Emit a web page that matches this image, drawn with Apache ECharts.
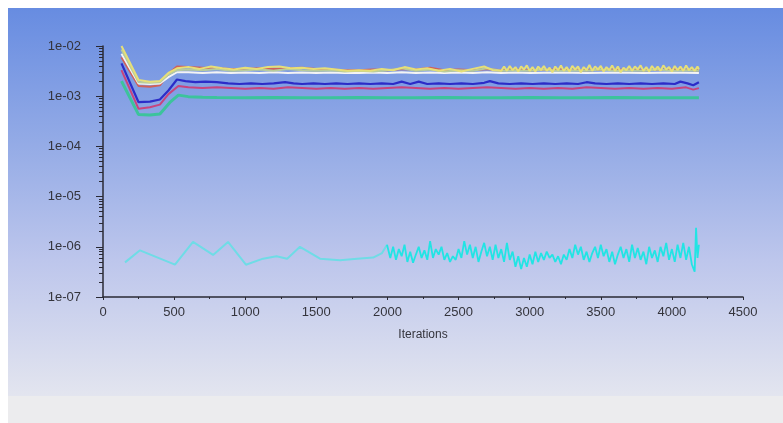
<!DOCTYPE html>
<html>
<head>
<meta charset="utf-8">
<script src="https://cdn.jsdelivr.net/npm/echarts@6/dist/echarts.min.js"></script>
<style>html,body{margin:0;padding:0;background:#fff}#c{width:783px;height:423px}</style>
</head>
<body>
<div id="c"></div>
<script>
// ---- data: [iteration, residual] ----
const xTicks = [0, 500, 1000, 1500, 2000, 2500, 3000, 3500, 4000, 4500];
const yTicks = ['1e-07', '1e-06', '1e-05', '1e-04', '1e-03', '1e-02'];

const yellowRes = [[130,1.0e-2],[250,2.1e-3],[330,1.95e-3],[400,2.0e-3],[460,2.9e-3],[520,3.6e-3],[600,3.8e-3],[680,3.5e-3],[760,3.9e-3],[840,3.6e-3],[920,3.4e-3],[1000,3.7e-3],[1080,3.5e-3],[1160,3.8e-3],[1240,3.9e-3],[1320,3.6e-3],[1400,3.7e-3],[1480,3.5e-3],[1560,3.6e-3],[1640,3.4e-3],[1720,3.2e-3],[1800,3.3e-3],[1880,3.2e-3],[1960,3.5e-3],[2040,3.3e-3],[2120,3.8e-3],[2200,3.4e-3],[2280,3.6e-3],[2360,3.2e-3],[2440,3.5e-3],[2520,3.1e-3],[2600,3.5e-3],[2680,3.9e-3],[2740,3.3e-3],[2800,3.2e-3],[2820,3.9e-3],[2840,3.2e-3],[2860,4.0e-3],[2880,3.3e-3],[2900,3.8e-3],[2920,3.1e-3],[2940,3.9e-3],[2960,3.4e-3],[2980,4.1e-3],[3000,3.2e-3],[3020,3.8e-3],[3040,3.1e-3],[3060,3.9e-3],[3080,3.3e-3],[3100,4.0e-3],[3120,3.2e-3],[3140,3.7e-3],[3160,3.0e-3],[3180,3.9e-3],[3200,3.3e-3],[3220,4.1e-3],[3240,3.2e-3],[3260,3.8e-3],[3280,3.1e-3],[3300,4.0e-3],[3320,3.4e-3],[3340,3.9e-3],[3360,3.0e-3],[3380,3.8e-3],[3400,3.3e-3],[3420,4.2e-3],[3440,3.2e-3],[3460,3.9e-3],[3480,3.4e-3],[3500,4.0e-3],[3520,3.1e-3],[3540,3.8e-3],[3560,3.3e-3],[3580,4.1e-3],[3600,3.2e-3],[3620,3.9e-3],[3640,3.0e-3],[3660,3.7e-3],[3680,3.3e-3],[3700,4.0e-3],[3720,3.2e-3],[3740,3.9e-3],[3760,3.4e-3],[3780,4.1e-3],[3800,3.2e-3],[3820,3.8e-3],[3840,3.1e-3],[3860,4.0e-3],[3880,3.3e-3],[3900,3.9e-3],[3920,3.2e-3],[3940,4.1e-3],[3960,3.4e-3],[3980,3.8e-3],[4000,3.1e-3],[4020,4.0e-3],[4040,3.3e-3],[4060,3.9e-3],[4080,3.2e-3],[4100,4.1e-3],[4120,3.3e-3],[4140,3.8e-3],[4160,3.2e-3],[4180,3.9e-3],[4190,3.4e-3]];
const grayRes = [[130,8.5e-3],[250,1.9e-3],[330,1.85e-3],[400,1.9e-3],[460,2.7e-3],[520,3.3e-3],[600,3.4e-3],[700,3.3e-3],[800,3.5e-3],[900,3.2e-3],[1000,3.3e-3],[1100,3.4e-3],[1200,3.2e-3],[1300,3.5e-3],[1400,3.3e-3],[1500,3.2e-3],[1600,3.3e-3],[1700,3.1e-3],[1800,3.2e-3],[1900,3.1e-3],[2000,3.3e-3],[2100,3.6e-3],[2200,3.2e-3],[2300,3.4e-3],[2400,3.1e-3],[2500,3.3e-3],[2600,3.2e-3],[2700,3.6e-3],[2800,3.2e-3],[2900,3.3e-3],[3000,3.2e-3],[3100,3.4e-3],[3200,3.2e-3],[3300,3.3e-3],[3400,3.2e-3],[3500,3.4e-3],[3600,3.2e-3],[3700,3.3e-3],[3800,3.2e-3],[3900,3.4e-3],[4000,3.2e-3],[4100,3.3e-3],[4190,3.2e-3]];
const whiteRes = [[130,7.0e-3],[250,1.8e-3],[330,1.75e-3],[400,1.8e-3],[460,2.4e-3],[520,3.0e-3],[600,3.0e-3],[700,2.9e-3],[800,3.0e-3],[900,2.9e-3],[1000,2.95e-3],[1100,2.9e-3],[1200,3.0e-3],[1300,2.9e-3],[1400,2.95e-3],[1500,2.9e-3],[1600,2.95e-3],[1700,2.9e-3],[1800,2.9e-3],[1900,2.95e-3],[2000,2.9e-3],[2100,3.0e-3],[2200,2.9e-3],[2300,2.95e-3],[2400,2.9e-3],[2500,2.95e-3],[2600,2.9e-3],[2700,3.0e-3],[2800,2.9e-3],[2900,2.95e-3],[3000,2.9e-3],[3200,2.95e-3],[3400,2.9e-3],[3600,2.95e-3],[3800,2.9e-3],[4000,2.95e-3],[4190,2.9e-3]];
const redRes = [[130,6.0e-3],[250,1.6e-3],[330,1.55e-3],[400,1.65e-3],[460,2.8e-3],[520,3.9e-3],[600,3.8e-3],[700,3.7e-3],[800,3.6e-3],[900,3.5e-3],[1000,3.5e-3],[1100,3.6e-3],[1200,3.5e-3],[1300,3.6e-3],[1400,3.7e-3],[1500,3.5e-3],[1600,3.4e-3],[1700,3.3e-3],[1800,3.3e-3],[1900,3.4e-3],[2000,3.3e-3],[2100,3.5e-3],[2200,3.4e-3],[2300,3.7e-3],[2400,3.3e-3],[2500,3.4e-3],[2600,3.3e-3],[2700,3.5e-3],[2800,3.3e-3],[2900,3.4e-3],[3000,3.3e-3],[3200,3.4e-3],[3400,3.3e-3],[3600,3.4e-3],[3800,3.3e-3],[4000,3.4e-3],[4190,3.3e-3]];
const blueRes = [[130,4.5e-3],[250,7.6e-4],[330,7.8e-4],[400,8.6e-4],[460,1.3e-3],[520,2.15e-3],[580,2.0e-3],[650,1.9e-3],[720,1.95e-3],[800,1.9e-3],[880,1.8e-3],[960,1.75e-3],[1040,1.8e-3],[1120,1.75e-3],[1200,1.8e-3],[1280,1.9e-3],[1340,1.8e-3],[1400,1.75e-3],[1480,1.8e-3],[1560,1.75e-3],[1640,1.8e-3],[1720,1.75e-3],[1800,1.8e-3],[1880,1.75e-3],[1960,1.8e-3],[2040,1.75e-3],[2100,1.95e-3],[2160,1.75e-3],[2220,1.95e-3],[2280,1.75e-3],[2360,1.8e-3],[2440,1.75e-3],[2520,1.8e-3],[2600,1.75e-3],[2680,1.85e-3],[2720,2.0e-3],[2780,1.8e-3],[2860,1.75e-3],[2940,1.8e-3],[3020,1.75e-3],[3100,1.8e-3],[3180,1.75e-3],[3260,1.8e-3],[3340,1.75e-3],[3400,1.9e-3],[3460,1.8e-3],[3540,1.75e-3],[3620,1.8e-3],[3700,1.75e-3],[3780,1.8e-3],[3860,1.75e-3],[3940,1.8e-3],[4020,1.75e-3],[4060,1.95e-3],[4110,1.8e-3],[4150,1.65e-3],[4190,1.9e-3]];
const magentaRes = [[130,3.3e-3],[250,5.6e-4],[330,6.0e-4],[400,6.8e-4],[460,1.1e-3],[530,1.6e-3],[600,1.5e-3],[700,1.45e-3],[800,1.5e-3],[900,1.45e-3],[1000,1.4e-3],[1100,1.45e-3],[1200,1.4e-3],[1300,1.5e-3],[1400,1.45e-3],[1500,1.4e-3],[1600,1.45e-3],[1700,1.4e-3],[1800,1.45e-3],[1900,1.4e-3],[2000,1.45e-3],[2100,1.5e-3],[2200,1.45e-3],[2300,1.4e-3],[2400,1.45e-3],[2500,1.4e-3],[2600,1.45e-3],[2700,1.5e-3],[2800,1.45e-3],[2900,1.4e-3],[3000,1.45e-3],[3100,1.4e-3],[3200,1.45e-3],[3300,1.4e-3],[3400,1.5e-3],[3500,1.45e-3],[3600,1.4e-3],[3700,1.45e-3],[3800,1.4e-3],[3900,1.45e-3],[4000,1.4e-3],[4100,1.5e-3],[4150,1.35e-3],[4190,1.45e-3]];
const greenRes = [[130,2.0e-3],[250,4.3e-4],[330,4.2e-4],[400,4.4e-4],[470,7.5e-4],[530,1.05e-3],[600,9.8e-4],[700,9.5e-4],[800,9.4e-4],[1000,9.3e-4],[1200,9.4e-4],[1400,9.3e-4],[1600,9.3e-4],[1800,9.4e-4],[2000,9.3e-4],[2200,9.3e-4],[2400,9.4e-4],[2600,9.3e-4],[2800,9.3e-4],[3000,9.4e-4],[3200,9.3e-4],[3400,9.3e-4],[3600,9.4e-4],[3800,9.3e-4],[4000,9.3e-4],[4190,9.3e-4]];
const cyanEarly = [[155,4.9e-7],[260,8.5e-7],[506,4.4e-7],[633,1.25e-6],[774,6.9e-7],[879,1.25e-6],[1005,4.4e-7],[1125,5.8e-7],[1220,6.5e-7],[1295,5.8e-7],[1385,1.0e-6],[1526,5.8e-7],[1667,5.4e-7],[1786,5.8e-7],[1899,6.1e-7],[1962,7.5e-7],[1997,1.1e-6]];
const cyanLate = [[1997,1.1e-6],[2020,6.0e-7],[2040,1.0e-6],[2060,5.5e-7],[2080,9.0e-7],[2100,6.5e-7],[2120,1.1e-6],[2140,5.0e-7],[2160,8.0e-7],[2180,4.8e-7],[2200,7.0e-7],[2220,1.0e-6],[2240,6.0e-7],[2260,8.5e-7],[2280,5.5e-7],[2300,1.3e-6],[2320,6.0e-7],[2340,9.0e-7],[2360,7.0e-7],[2380,1.0e-6],[2400,5.5e-7],[2420,7.5e-7],[2440,5.0e-7],[2460,6.5e-7],[2480,5.5e-7],[2500,9.0e-7],[2520,6.0e-7],[2540,1.3e-6],[2560,7.0e-7],[2580,1.1e-6],[2600,6.0e-7],[2620,1.0e-6],[2640,5.0e-7],[2660,8.0e-7],[2680,1.2e-6],[2700,6.5e-7],[2720,1.0e-6],[2740,5.5e-7],[2760,1.1e-6],[2780,6.0e-7],[2800,9.0e-7],[2820,5.0e-7],[2840,1.2e-6],[2860,5.5e-7],[2880,8.0e-7],[2900,4.0e-7],[2920,6.5e-7],[2940,3.6e-7],[2960,6.0e-7],[2980,4.0e-7],[3000,7.0e-7],[3020,4.5e-7],[3040,8.0e-7],[3060,5.0e-7],[3080,7.5e-7],[3100,5.5e-7],[3120,8.0e-7],[3140,6.0e-7],[3160,7.0e-7],[3180,5.0e-7],[3200,6.5e-7],[3220,4.5e-7],[3240,7.0e-7],[3260,5.5e-7],[3280,9.0e-7],[3300,6.0e-7],[3320,1.1e-6],[3340,7.0e-7],[3360,1.0e-6],[3380,5.5e-7],[3400,8.0e-7],[3420,5.0e-7],[3440,7.5e-7],[3460,1.0e-6],[3480,6.0e-7],[3500,1.1e-6],[3520,6.5e-7],[3540,9.0e-7],[3560,5.0e-7],[3580,8.0e-7],[3600,4.5e-7],[3620,7.0e-7],[3640,1.0e-6],[3660,6.0e-7],[3680,9.0e-7],[3700,5.0e-7],[3720,1.1e-6],[3740,6.0e-7],[3760,9.5e-7],[3780,5.5e-7],[3800,8.0e-7],[3820,4.5e-7],[3840,1.0e-6],[3860,6.0e-7],[3880,8.5e-7],[3900,5.0e-7],[3920,1.0e-6],[3940,6.5e-7],[3960,1.2e-6],[3980,5.5e-7],[4000,9.0e-7],[4020,5.0e-7],[4040,1.1e-6],[4060,6.0e-7],[4080,1.2e-6],[4100,5.5e-7],[4120,1.0e-6],[4140,4.5e-7],[4160,3.2e-7],[4170,2.4e-6],[4180,6.0e-7],[4190,1.1e-6]];

// minor tick positions (log10 of 2..9 x 10^e)
const minorTickVals = [];
for (let e = -7; e < -2; e++) for (let k = 2; k <= 9; k++) minorTickVals.push(Math.log10(k) + e);

const chart = echarts.init(document.getElementById('c'), null, {renderer: 'canvas'});
const lbl = {color: '#34343c', fontFamily: 'Liberation Sans', fontSize: 13};
function line(data, color, width) {
  return {type: 'line', data: data, showSymbol: false, symbol: 'none', xAxisIndex: 0, yAxisIndex: 0,
    lineStyle: {color: color, width: width}, itemStyle: {color: color}, z: 3};
}
chart.setOption({
  animation: false,
  backgroundColor: '#ffffff',
  graphic: [
    {type: 'rect', z: -10, silent: true, shape: {x: 8, y: 8, width: 775, height: 388},
      style: {fill: new echarts.graphic.LinearGradient(0, 0, 0, 1, [
        {offset: 0, color: '#678ce1'}, {offset: 0.35, color: '#94abe6'},
        {offset: 0.65, color: '#bdc6ec'}, {offset: 1, color: '#e3e5ef'}])}},
    {type: 'rect', z: -10, silent: true, shape: {x: 8, y: 396, width: 775, height: 27}, style: {fill: '#ececee'}}
  ],
  grid: {left: 103, right: 40, top: 46, bottom: 126, containLabel: false},
  xAxis: {type: 'value', min: 0, max: 4500, interval: 500,
    name: 'Iterations', nameLocation: 'middle', nameGap: 32, nameTextStyle: Object.assign({}, lbl, {fontSize: 12}),
    axisLine: {lineStyle: {color: '#2a2a35', width: 1.5}},
    axisTick: {length: 3, lineStyle: {color: '#2a2a35'}},
    minorTick: {show: true, splitNumber: 2, length: 2, lineStyle: {color: '#2a2a35'}},
    axisLabel: Object.assign({margin: 9, formatter: v => String(v)}, lbl),
    splitLine: {show: false}},
  yAxis: [
    {type: 'log', logBase: 10, min: 1e-7, max: 1e-2,
      axisLine: {show: true, lineStyle: {color: '#2a2a35', width: 1.5}},
      axisTick: {show: true, length: 7, lineStyle: {color: '#2a2a35'}},
      axisLabel: Object.assign({margin: 22, formatter: v => yTicks[Math.round(Math.log10(v)) + 7]}, lbl),
      splitLine: {show: false}},
    {type: 'value', min: -7, max: -2, position: 'left',
      axisLine: {show: false}, axisLabel: {show: false}, splitLine: {show: false},
      axisTick: {show: true, length: 4, customValues: minorTickVals, lineStyle: {color: '#2a2a35'}}}
  ],
  series: [
    line(greenRes, '#3cc39c', 3),
    line(magentaRes, '#c8447e', 2),
    line(blueRes, '#2c2cc8', 2.2),
    line(redRes, '#d0605a', 2),
    line(whiteRes, '#f4f4f4', 2),
    line(grayRes, '#b8cc9c', 2),
    line(yellowRes, '#e6df78', 2),
    line(cyanEarly, '#6fdce6', 2),
    line(cyanLate, '#22e4e4', 1.8)
  ]
});
</script>
</body>
</html>
